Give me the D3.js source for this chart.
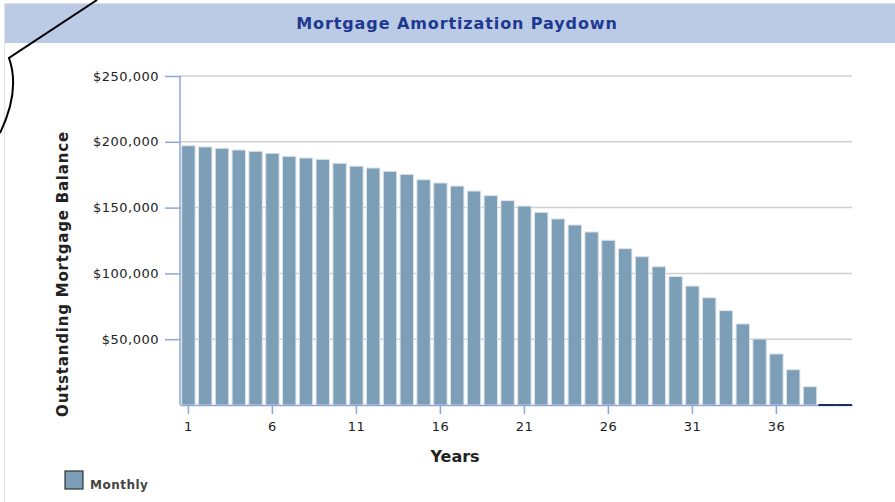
<!DOCTYPE html>
<html>
<head>
<meta charset="utf-8">
<script src="https://cdn.jsdelivr.net/npm/d3@7"></script>
<style>
  body { margin: 0; background: #fff; }
  svg { display: block; font-family: "DejaVu Sans", Verdana, sans-serif; }
</style>
</head>
<body>
<div class="chart"></div>
<script>
// data
const years = d3.range(1, 41);
const balances = [
  197000, 196100, 195100, 193800, 192800, 191300, 189000, 187700, 186700, 183700,
  181500, 180100, 177600, 175300, 171200, 168700, 166400, 162600, 159100, 155300,
  151200, 146400, 141400, 136800, 131500, 125200, 118800, 112700, 105100, 97700,
  90400, 81500, 71700, 61600, 50200, 38800, 26800, 13900, 0, 0
];
const yTicks = [50000, 100000, 150000, 200000, 250000];
const xTicks = [1, 6, 11, 16, 21, 26, 31, 36];
const title = "Mortgage Amortization Paydown";
const xTitle = "Years";
const yTitle = "Outstanding Mortgage Balance";
const legendLabel = "Monthly";

function init(){
    const w = 895, h = 502;
    const barColor = "#7c9eb7";
    const font = "'DejaVu Sans', Verdana, sans-serif";

    const svg = d3.select(".chart").append("svg").attr("width", w).attr("height", h);

    // panel border + header band
    svg.append("rect").attr("x", 4.5).attr("y", 3.5).attr("width", w).attr("height", h)
      .attr("fill", "none").attr("stroke", "#e2e2e2");
    svg.append("rect").attr("x", 5).attr("y", 4).attr("width", w - 5).attr("height", 39)
      .attr("fill", "#bccbe5");
    svg.append("text").attr("x", 457).attr("y", 29)
      .attr("text-anchor", "middle").attr("font-weight", "bold").attr("font-size", "16px")
      .attr("letter-spacing", "0.9px")
      .attr("fill", "#1d3990").text(title);

    const x = d3.scaleBand().domain(years).range([180, 852]).paddingInner(0.2).paddingOuter(0.1);
    const y = d3.scaleLinear().domain([0, 250000]).range([405, 76]);

    // grid lines
    svg.append("g").selectAll("line").data(yTicks).join("line")
      .attr("x1", 180).attr("x2", 852)
      .attr("y1", d => y(d)).attr("y2", d => y(d))
      .attr("stroke", "#cfcfcf").attr("stroke-width", 1.5);

    // bars
    const data = years.map((yr, i) => ({year: yr, value: balances[i]}));
    svg.append("g").selectAll("rect").data(data.filter(d => d.value > 0)).join("rect")
      .attr("x", d => x(d.year)).attr("width", x.bandwidth())
      .attr("y", d => y(d.value)).attr("height", d => y(0) - y(d.value))
      .attr("fill", barColor).attr("stroke", "#dfe5ea").attr("stroke-width", 1);

    // y axis
    const yAxis = svg.append("g").attr("transform", "translate(180,0)")
      .call(d3.axisLeft(y).tickValues(yTicks).tickFormat(d3.format("$,")).tickSize(15).tickPadding(6));
    yAxis.select(".domain").attr("stroke", "#8ea6d6").attr("stroke-width", 1.5).attr("d", `M0,${y(250000)}V${y(0)}`);
    yAxis.selectAll(".tick line").attr("stroke", "#8ea6d6").attr("stroke-width", 1.5);
    yAxis.selectAll(".tick text").attr("font-size", "13px").attr("fill", "#222")
      .attr("letter-spacing", "0.5px").attr("font-family", font);

    // x axis
    const xAxis = svg.append("g").attr("transform", `translate(0,${y(0)})`)
      .call(d3.axisBottom(x).tickValues(xTicks).tickSize(9).tickPadding(8).tickSizeOuter(0));
    xAxis.select(".domain").attr("stroke", "#8ea6d6").attr("stroke-width", 1.5);
    xAxis.selectAll(".tick line").attr("stroke", "#8ea6d6").attr("stroke-width", 1.5);
    xAxis.selectAll(".tick text").attr("font-size", "13px").attr("fill", "#222")
      .attr("letter-spacing", "0.5px").attr("font-family", font);

    // zero bars show as a dark line on the axis
    const half = (x.step() - x.bandwidth()) / 2;
    svg.append("g").selectAll("line").data(data.filter(d => d.value === 0)).join("line")
      .attr("x1", d => x(d.year) - half).attr("x2", d => x(d.year) + x.bandwidth() + half)
      .attr("y1", y(0)).attr("y2", y(0))
      .attr("stroke", "#1f2d5c").attr("stroke-width", 2);

    // axis titles
    svg.append("text").attr("x", 455).attr("y", 462)
      .attr("text-anchor", "middle").attr("font-weight", "bold").attr("font-size", "16px")
      .attr("fill", "#222").text(xTitle);
    svg.append("text").attr("transform", "translate(68,274) rotate(-90)")
      .attr("text-anchor", "middle").attr("font-weight", "bold").attr("font-size", "15px")
      .attr("letter-spacing", "0.8px")
      .attr("fill", "#222").text(yTitle);

    // legend
    svg.append("rect").attr("x", 65).attr("y", 471).attr("width", 18).attr("height", 18)
      .attr("fill", barColor).attr("stroke", "#333").attr("stroke-width", 1.2);
    svg.append("text").attr("x", 90).attr("y", 489).attr("font-size", "12px")
      .attr("font-weight", "bold").attr("letter-spacing", "0.5px")
      .attr("fill", "#444").text(legendLabel);

    // stray pen stroke in the top-left corner
    svg.append("path")
      .attr("d", "M97,0 L9,58 C15,75 16,100 0,133")
      .attr("fill", "none").attr("stroke", "#000").attr("stroke-width", 2);
}
window.onload = init;
</script>
</body>
</html>
